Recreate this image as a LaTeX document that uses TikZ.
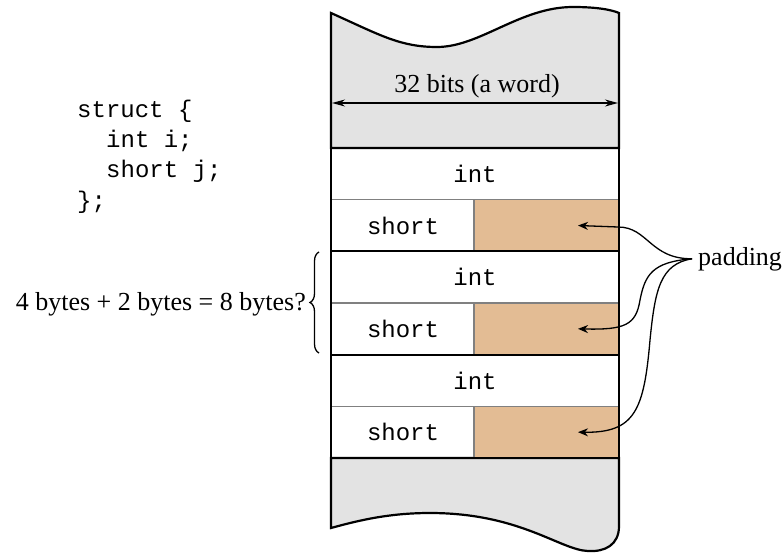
\documentclass[tikz,border=0pt]{standalone}
\usepackage{fontspec}
\setmainfont{Liberation Serif}
\setmonofont{Liberation Mono}
\usetikzlibrary{calc,decorations.pathreplacing,arrows.meta}
\definecolor{memgray}{RGB}{227,227,227}
\definecolor{padtan}{RGB}{227,188,148}

\begin{document}
\begin{tikzpicture}[x=1pt,y=-1pt,
    wall/.style={line width=2.2pt},
    sep/.style={line width=1.4pt,gray},
    code/.style={font=\fontsize{24}{28}\selectfont\ttfamily,inner sep=0pt},
    txt/.style={font=\fontsize{26}{30}\selectfont,inner sep=0pt},
    ptr/.style={line width=1.3pt,-{Stealth[length=10pt,width=8pt]}},
    dim/.style={line width=1.3pt,{Stealth[length=13pt,width=7pt]}-{Stealth[length=13pt,width=7pt]}}]

    \useasboundingbox (0,0) rectangle (783,553);

    % memory column: torn top and bottom
    \coordinate (TL) at (331,13);
    \coordinate (TR) at (619,13);
    \coordinate (ML) at (331,148);
    \coordinate (MR) at (619,148);
    \coordinate (NL) at (331,458);
    \coordinate (NR) at (619,458);

    \filldraw[wall,fill=memgray] (TL) .. controls (380,35) and (400,47) .. (437,47)
        .. controls (480,47) and (520,7) .. (573,7)
        .. controls (598,7) and (612,10) .. (TR) -- (MR) -- (ML) -- cycle;
    \filldraw[wall,fill=memgray] (NL) -- (NR) -- (619,526)
        .. controls (619,545) and (605,552) .. (588,551)
        .. controls (560,550) and (520,513) .. (430,513)
        .. controls (390,513) and (360,520) .. (331,528) -- cycle;

    % word width
    \coordinate (wl) at (332,103);
    \coordinate (wr) at (618,103);
    \draw[dim] (wl) -- (wr);
    \node[txt,anchor=base] (word) at (477,93) {32 bits (a word)};

    % three structs: int, then short + padding
    \foreach \k in {0,1,2} {
        \pgfmathsetmacro\ya{148+103.33*\k}
        \pgfmathsetmacro\yb{\ya+51.67}
        \pgfmathsetmacro\yc{\ya+103.33}
        \fill[padtan] (474,\yb) rectangle (619,\yc);
        \draw[sep] (331,\yb) -- (619,\yb);
        \draw[sep] (474,\yb) -- (474,\yc);
        \draw[wall] (331,\yc) -- (619,\yc);
        \node[code] (int\k) at (475,{(\ya+\yb)/2}) {int};
        \node[code] (sh\k) at (403,{(\yb+\yc)/2}) {short};
        \coordinate (pad\k) at (578,{(\yb+\yc)/2});
    }
    \draw[wall] (ML) -- (MR);
    \draw[wall] (ML) -- (NL);
    \draw[wall] (MR) -- (NR);

    % the struct itself
    \node[code,anchor=base west] (ln1) at (77,118) {struct \{};
    \node[code,anchor=base west] (ln2) at (106,148) {int i;};
    \node[code,anchor=base west] (ln3) at (106,178) {short j;};
    \node[code,anchor=base west] (ln4) at (77,208) {\};};

    % brace over one struct
    \coordinate (bb) at (319,353);
    \coordinate (bt) at (319,252);
    \draw[line width=1.3pt,decorate,decoration={brace,amplitude=9pt}] (bb) -- (bt);
    \node[txt,anchor=base east] (guess) at (306,310) {4 bytes + 2 bytes = 8 bytes?};

    % padding pointers
    \node[txt,anchor=base west,inner xsep=6pt] (padlbl) at (692,265) {padding};
    \draw[ptr] (padlbl.west) .. controls (650,259) and (648,227) .. (618,227) -- (pad0);
    \draw[ptr] (padlbl.west) .. controls (652,262) and (645,275) .. (640,300)
        .. controls (636,325) and (625,330) .. (pad1);
    \draw[ptr] (padlbl.west) .. controls (660,264) and (655,290) .. (650,340)
        .. controls (644,410) and (635,433) .. (pad2);
\end{tikzpicture}
\end{document}
